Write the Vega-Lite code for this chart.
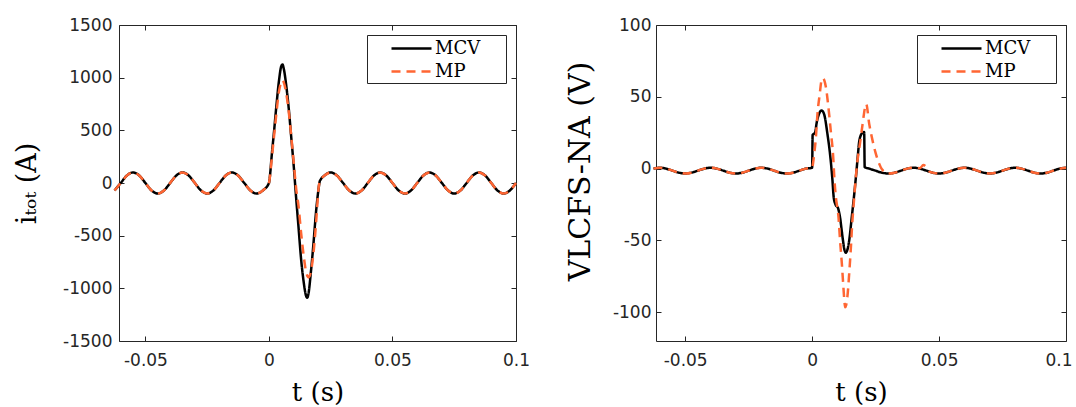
{
"$schema": "https://vega.github.io/schema/vega-lite/v6.json",
"background": "white",
"autosize": {"type": "pad"},
"padding": {"left": 12, "top": 15, "right": 6, "bottom": 0},
"config": {
 "view": {"stroke": "#262626", "strokeWidth": 1},
 "axis": {"grid": false, "domain": false, "tickColor": "#262626", "tickSize": -5, "tickWidth": 1, "labelFont": "DejaVu Sans", "labelFontSize": 17, "labelColor": "#262626", "labelOverlap": false, "titleFont": "DejaVu Serif", "titleFontWeight": "normal", "titleColor": "#000000", "titleFontSize": 26},
 "line": {"strokeWidth": 2.5, "interpolate": "monotone", "clip": true, "strokeCap": "butt"},
 "legend": {"orient": "top-right", "offset": 10, "fillColor": "#ffffff", "strokeColor": "#262626", "padding": 2, "symbolType": "M-2,0H2", "symbolSize": 400, "symbolStrokeWidth": 2.5, "symbolOffset": 31, "labelFont": "DejaVu Serif", "labelFontSize": 18, "labelColor": "#000000", "labelOffset": 12, "rowPadding": 2, "cornerRadius": 0}
},
"datasets": {
 "cur": [
{"t":-0.0625,"MCV":-71,"MP":-71},
{"t":-0.06,"MCV":0,"MP":0},
{"t":-0.0575,"MCV":71,"MP":71},
{"t":-0.055,"MCV":100,"MP":100},
{"t":-0.0525,"MCV":71,"MP":71},
{"t":-0.05,"MCV":0,"MP":0},
{"t":-0.0475,"MCV":-71,"MP":-71},
{"t":-0.045,"MCV":-100,"MP":-100},
{"t":-0.0425,"MCV":-71,"MP":-71},
{"t":-0.04,"MCV":0,"MP":0},
{"t":-0.0375,"MCV":71,"MP":71},
{"t":-0.035,"MCV":100,"MP":100},
{"t":-0.0325,"MCV":71,"MP":71},
{"t":-0.03,"MCV":0,"MP":0},
{"t":-0.0275,"MCV":-71,"MP":-71},
{"t":-0.025,"MCV":-100,"MP":-100},
{"t":-0.0225,"MCV":-71,"MP":-71},
{"t":-0.02,"MCV":0,"MP":0},
{"t":-0.0175,"MCV":71,"MP":71},
{"t":-0.015,"MCV":100,"MP":100},
{"t":-0.0125,"MCV":71,"MP":71},
{"t":-0.01,"MCV":0,"MP":0},
{"t":-0.0075,"MCV":-71,"MP":-71},
{"t":-0.005,"MCV":-100,"MP":-100},
{"t":-0.0025,"MCV":-71,"MP":-71},
{"t":0,"MCV":0,"MP":0},
{"t":0.0005,"MCV":90,"MP":80},
{"t":0.001,"MCV":230,"MP":200},
{"t":0.002,"MCV":475,"MP":430},
{"t":0.003,"MCV":730,"MP":660},
{"t":0.004,"MCV":960,"MP":860},
{"t":0.005,"MCV":1110,"MP":960},
{"t":0.0055,"MCV":1125,"MP":975},
{"t":0.006,"MCV":1085,"MP":955},
{"t":0.007,"MCV":925,"MP":850},
{"t":0.008,"MCV":710,"MP":680},
{"t":0.009,"MCV":440,"MP":450},
{"t":0.01,"MCV":170,"MP":200},
{"t":0.011,"MCV":-140,"MP":-50},
{"t":0.012,"MCV":-430,"MP":-225},
{"t":0.013,"MCV":-720,"MP":-470},
{"t":0.014,"MCV":-930,"MP":-680},
{"t":0.015,"MCV":-1070,"MP":-840},
{"t":0.0155,"MCV":-1090},
{"t":0.016,"MCV":-1050,"MP":-896},
{"t":0.017,"MCV":-840,"MP":-840},
{"t":0.018,"MCV":-580,"MP":-670},
{"t":0.019,"MCV":-290,"MP":-400},
{"t":0.0196,"MP":-200},
{"t":0.02,"MCV":-70,"MP":-70},
{"t":0.0205,"MCV":10,"MP":10},
{"t":0.021,"MCV":35,"MP":35},
{"t":0.0225,"MCV":71,"MP":71},
{"t":0.025,"MCV":100,"MP":100},
{"t":0.0275,"MCV":71,"MP":71},
{"t":0.03,"MCV":0,"MP":0},
{"t":0.0325,"MCV":-71,"MP":-71},
{"t":0.035,"MCV":-100,"MP":-100},
{"t":0.0375,"MCV":-71,"MP":-71},
{"t":0.04,"MCV":0,"MP":0},
{"t":0.0425,"MCV":71,"MP":71},
{"t":0.045,"MCV":100,"MP":100},
{"t":0.0475,"MCV":71,"MP":71},
{"t":0.05,"MCV":0,"MP":0},
{"t":0.0525,"MCV":-71,"MP":-71},
{"t":0.055,"MCV":-100,"MP":-100},
{"t":0.0575,"MCV":-71,"MP":-71},
{"t":0.06,"MCV":0,"MP":0},
{"t":0.0625,"MCV":71,"MP":71},
{"t":0.065,"MCV":100,"MP":100},
{"t":0.0675,"MCV":71,"MP":71},
{"t":0.07,"MCV":0,"MP":0},
{"t":0.0725,"MCV":-71,"MP":-71},
{"t":0.075,"MCV":-100,"MP":-100},
{"t":0.0775,"MCV":-71,"MP":-71},
{"t":0.08,"MCV":0,"MP":0},
{"t":0.0825,"MCV":71,"MP":71},
{"t":0.085,"MCV":100,"MP":100},
{"t":0.0875,"MCV":71,"MP":71},
{"t":0.09,"MCV":0,"MP":0},
{"t":0.0925,"MCV":-71,"MP":-71},
{"t":0.095,"MCV":-100,"MP":-100},
{"t":0.0975,"MCV":-71,"MP":-71},
{"t":0.1,"MCV":0,"MP":0}
 ],
 "volt": [
{"t":-0.0625,"MCV":0,"MP":0},
{"t":-0.06,"MCV":0.6,"MP":0.6},
{"t":-0.0575,"MCV":0,"MP":0},
{"t":-0.055,"MCV":-1.4,"MP":-1.4},
{"t":-0.0525,"MCV":-2.8,"MP":-2.8},
{"t":-0.05,"MCV":-3.4,"MP":-3.4},
{"t":-0.0475,"MCV":-2.8,"MP":-2.8},
{"t":-0.045,"MCV":-1.4,"MP":-1.4},
{"t":-0.0425,"MCV":0,"MP":0},
{"t":-0.04,"MCV":0.6,"MP":0.6},
{"t":-0.0375,"MCV":0,"MP":0},
{"t":-0.035,"MCV":-1.4,"MP":-1.4},
{"t":-0.0325,"MCV":-2.8,"MP":-2.8},
{"t":-0.03,"MCV":-3.4,"MP":-3.4},
{"t":-0.0275,"MCV":-2.8,"MP":-2.8},
{"t":-0.025,"MCV":-1.4,"MP":-1.4},
{"t":-0.0225,"MCV":0,"MP":0},
{"t":-0.02,"MCV":0.6,"MP":0.6},
{"t":-0.0175,"MCV":0,"MP":0},
{"t":-0.015,"MCV":-1.4,"MP":-1.4},
{"t":-0.0125,"MCV":-2.8,"MP":-2.8},
{"t":-0.01,"MCV":-3.4,"MP":-3.4},
{"t":-0.0075,"MCV":-2.8,"MP":-2.8},
{"t":-0.005,"MCV":-1.4,"MP":-1.4},
{"t":-0.0025,"MCV":0,"MP":0},
{"t":0,"MCV":0.6,"MP":0.6},
{"t":0.0002,"MCV":23.5,"MP":2},
{"t":0.0008,"MP":10},
{"t":0.0009,"MCV":24.5},
{"t":0.0013,"MCV":26},
{"t":0.0014,"MP":20},
{"t":0.0017,"MCV":31},
{"t":0.0021,"MP":38},
{"t":0.0027,"MCV":38},
{"t":0.003,"MP":52},
{"t":0.0037,"MCV":40.5,"MP":61.5},
{"t":0.0042,"MP":63},
{"t":0.0047,"MCV":38},
{"t":0.0048,"MP":61.5},
{"t":0.0054,"MP":57},
{"t":0.006,"MCV":24.5},
{"t":0.0064,"MP":43},
{"t":0.0073,"MCV":6,"MP":27},
{"t":0.008,"MCV":-8},
{"t":0.0083,"MP":8},
{"t":0.0085,"MCV":-20},
{"t":0.0088,"MP":-8},
{"t":0.0092,"MCV":-25},
{"t":0.0093,"MP":-19},
{"t":0.0102,"MCV":-27.5},
{"t":0.0104,"MP":-34},
{"t":0.011,"MCV":-34,"MP":-50},
{"t":0.0117,"MP":-66},
{"t":0.012,"MCV":-48},
{"t":0.0123,"MP":-82},
{"t":0.0127,"MP":-92},
{"t":0.0128,"MCV":-57},
{"t":0.013,"MP":-96.5},
{"t":0.0133,"MCV":-58.5},
{"t":0.0134,"MP":-95},
{"t":0.0138,"MCV":-57},
{"t":0.0139,"MP":-89},
{"t":0.0146,"MCV":-50,"MP":-73},
{"t":0.0152,"MP":-57},
{"t":0.0156,"MCV":-34},
{"t":0.0158,"MP":-38},
{"t":0.0165,"MP":-22},
{"t":0.0166,"MCV":-17.5},
{"t":0.0172,"MP":-6},
{"t":0.0175,"MCV":-1},
{"t":0.0179,"MP":6},
{"t":0.018,"MCV":9},
{"t":0.0186,"MCV":19.5},
{"t":0.0188,"MP":17},
{"t":0.0196,"MCV":24.5},
{"t":0.0198,"MP":30},
{"t":0.0205,"MCV":25.5},
{"t":0.0207,"MCV":1},
{"t":0.0209,"MP":43},
{"t":0.0213,"MP":45},
{"t":0.0225,"MCV":0,"MP":31},
{"t":0.0235,"MCV":-0.6,"MP":22},
{"t":0.025,"MCV":-1.4,"MP":11},
{"t":0.0264,"MCV":-2.3,"MP":3.5},
{"t":0.0275,"MCV":-2.8,"MP":-0.5},
{"t":0.03,"MCV":-3.4,"MP":-3.4},
{"t":0.0325,"MCV":-2.8,"MP":-2.8},
{"t":0.035,"MCV":-1.4,"MP":-1.4},
{"t":0.0375,"MCV":0,"MP":0},
{"t":0.04,"MCV":0.6,"MP":0.6},
{"t":0.0425,"MCV":0,"MP":0.3},
{"t":0.0438,"MCV":-0.7,"MP":2.5},
{"t":0.045,"MCV":-1.4,"MP":1},
{"t":0.0462,"MCV":-2.1,"MP":-2},
{"t":0.0475,"MCV":-2.8,"MP":-2.8},
{"t":0.05,"MCV":-3.4,"MP":-3.4},
{"t":0.0525,"MCV":-2.8,"MP":-2.8},
{"t":0.055,"MCV":-1.4,"MP":-1.4},
{"t":0.0575,"MCV":0,"MP":0},
{"t":0.06,"MCV":0.6,"MP":0.6},
{"t":0.0625,"MCV":0,"MP":0},
{"t":0.065,"MCV":-1.4,"MP":-1.4},
{"t":0.0675,"MCV":-2.8,"MP":-2.8},
{"t":0.07,"MCV":-3.4,"MP":-3.4},
{"t":0.0725,"MCV":-2.8,"MP":-2.8},
{"t":0.075,"MCV":-1.4,"MP":-1.4},
{"t":0.0775,"MCV":0,"MP":0},
{"t":0.08,"MCV":0.6,"MP":0.6},
{"t":0.0825,"MCV":0,"MP":0},
{"t":0.085,"MCV":-1.4,"MP":-1.4},
{"t":0.0875,"MCV":-2.8,"MP":-2.8},
{"t":0.09,"MCV":-3.4,"MP":-3.4},
{"t":0.0925,"MCV":-2.8,"MP":-2.8},
{"t":0.095,"MCV":-1.4,"MP":-1.4},
{"t":0.0975,"MCV":0,"MP":0},
{"t":0.1,"MCV":0.6,"MP":0.6}
 ]
},
"spacing": 140,
"bounds": "flush",
"resolve": {"scale": {"x": "independent", "y": "independent", "color": "independent", "strokeDash": "independent"}, "legend": {"color": "independent", "strokeDash": "independent"}},
"hconcat": [
 {
  "width": 397, "height": 316,
  "data": {"name": "cur"},
  "transform": [{"fold": ["MCV", "MP"], "as": ["series", "v"]}, {"filter": "isValid(datum.v)"}],
  "layer": [
   {
    "mark": {"type": "line"},
    "encoding": {
     "x": {"field": "t", "type": "quantitative", "scale": {"domain": [-0.0607, 0.1], "nice": false, "zero": false},
           "axis": {"orient": "bottom", "values": [-0.05, 0, 0.05, 0.1], "labelExpr": "'' + datum.value", "labelPadding": 16, "labelFlush": false, "title": "t (s)", "titleX": 198.5, "titleY": 51, "titleBaseline": "middle", "titleAlign": "center"}},
     "y": {"field": "v", "type": "quantitative", "scale": {"domain": [-1500, 1500], "nice": false, "zero": false},
           "axis": {"orient": "left", "values": [-1500, -1000, -500, 0, 500, 1000, 1500], "labelExpr": "'' + datum.value", "labelPadding": 12, "title": "iₜₒₜ (A)", "titleX": -92, "titleY": 158, "titleAngle": -90, "titleBaseline": "middle", "titleAlign": "center", "titleFontSize": 27}},
     "color": {"field": "series", "type": "nominal", "scale": {"domain": ["MCV", "MP"], "range": ["#000000", "#ff6633"]}, "legend": {"title": null, "labelExpr": "datum.label + '\u00a0\u00a0\u00a0\u00a0\u200b'"}},
     "strokeDash": {"field": "series", "type": "nominal", "scale": {"domain": ["MCV", "MP"], "range": [[1, 0], [9, 6]]}, "legend": {"title": null, "labelExpr": "datum.label + '\u00a0\u00a0\u00a0\u00a0\u200b'"}}
    }
   },
   {
    "mark": {"type": "point", "opacity": 0},
    "encoding": {
     "x": {"field": "t", "type": "quantitative", "scale": {"domain": [-0.0607, 0.1], "nice": false, "zero": false},
           "axis": {"orient": "top", "values": [-0.05, 0, 0.05, 0.1], "labels": false, "title": null}},
     "y": {"field": "v", "type": "quantitative", "scale": {"domain": [-1500, 1500], "nice": false, "zero": false},
           "axis": {"orient": "right", "values": [-1500, -1000, -500, 0, 500, 1000, 1500], "labels": false, "title": null}}
    }
   }
  ],
  "resolve": {"axis": {"x": "independent", "y": "independent"}}
 },
 {
  "width": 410, "height": 316,
  "data": {"name": "volt"},
  "transform": [{"fold": ["MCV", "MP"], "as": ["series", "v"]}, {"filter": "isValid(datum.v)"}],
  "layer": [
   {
    "mark": {"type": "line"},
    "encoding": {
     "x": {"field": "t", "type": "quantitative", "scale": {"domain": [-0.0615, 0.1], "nice": false, "zero": false},
           "axis": {"orient": "bottom", "values": [-0.05, 0, 0.05, 0.1], "labelExpr": "'' + datum.value", "labelPadding": 16, "labelFlush": true, "labelFlushOffset": 6, "title": "t (s)", "titleX": 205, "titleY": 51, "titleBaseline": "middle", "titleAlign": "center"}},
     "y": {"field": "v", "type": "quantitative", "scale": {"domain": [-120, 100], "nice": false, "zero": false},
           "axis": {"orient": "left", "values": [-100, -50, 0, 50, 100], "labelExpr": "'' + datum.value", "labelPadding": 10, "title": "VLCFS-NA (V)", "titleX": -76, "titleY": 146, "titleAngle": -90, "titleBaseline": "middle", "titleAlign": "center", "titleFontSize": 30}},
     "color": {"field": "series", "type": "nominal", "scale": {"domain": ["MCV", "MP"], "range": ["#000000", "#ff6633"]}, "legend": {"title": null, "labelExpr": "datum.label + '\u00a0\u00a0\u00a0\u00a0\u200b'"}},
     "strokeDash": {"field": "series", "type": "nominal", "scale": {"domain": ["MCV", "MP"], "range": [[1, 0], [9, 6]]}, "legend": {"title": null, "labelExpr": "datum.label + '\u00a0\u00a0\u00a0\u00a0\u200b'"}}
    }
   },
   {
    "mark": {"type": "point", "opacity": 0},
    "encoding": {
     "x": {"field": "t", "type": "quantitative", "scale": {"domain": [-0.0615, 0.1], "nice": false, "zero": false},
           "axis": {"orient": "top", "values": [-0.05, 0, 0.05, 0.1], "labels": false, "title": null}},
     "y": {"field": "v", "type": "quantitative", "scale": {"domain": [-120, 100], "nice": false, "zero": false},
           "axis": {"orient": "right", "values": [-100, -50, 0, 50, 100], "labels": false, "title": null}}
    }
   }
  ],
  "resolve": {"axis": {"x": "independent", "y": "independent"}}
 }
]
}
